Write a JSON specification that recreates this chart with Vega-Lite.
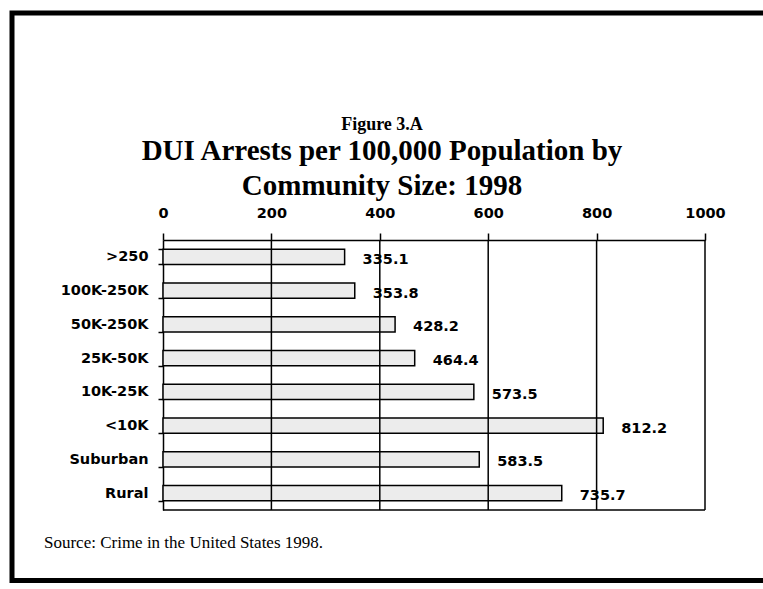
{
  "$schema": "https://vega.github.io/schema/vega-lite/v6.json",
  "autosize": "none",
  "width": 780,
  "height": 567.5,
  "padding": {"left": 12, "top": 13, "right": -29, "bottom": 8.5},
  "background": "white",
  "config": {
    "view": {"stroke": "black", "strokeWidth": 5},
    "axis": {"grid": false}
  },
  "title": {
    "text": "Figure 3.A",
    "subtitle": ["DUI Arrests per 100,000 Population by", "Community Size:  1998"],
    "font": "Liberation Serif",
    "fontSize": 18,
    "fontWeight": "bold",
    "color": "black",
    "subtitleFont": "Liberation Serif",
    "subtitleFontSize": 29,
    "subtitleFontWeight": "bold",
    "subtitleColor": "black",
    "subtitleLineHeight": 34.5,
    "subtitlePadding": 3,
    "anchor": "middle",
    "frame": "group",
    "offset": -195.5,
    "dx": -20
  },
  "datasets": {
    "rates": [
      {"community": ">250", "rate": 335.1},
      {"community": "100K-250K", "rate": 353.8},
      {"community": "50K-250K", "rate": 428.2},
      {"community": "25K-50K", "rate": 464.4},
      {"community": "10K-25K", "rate": 573.5},
      {"community": "<10K", "rate": 812.2},
      {"community": "Suburban", "rate": 583.5},
      {"community": "Rural", "rate": 735.7}
    ],
    "grid": [{"v": 200}, {"v": 400}, {"v": 600}, {"v": 800}, {"v": 1000}],
    "note": [{"note": "Source: Crime in the United States 1998."}]
  },
  "layer": [
    {
      "data": {"name": "rates"},
      "layer": [
        {
          "mark": {"type": "bar", "fill": "#ececec", "stroke": "black", "strokeWidth": 1.5},
          "encoding": {
            "y": {
              "field": "community", "type": "nominal", "sort": null, "title": null,
              "scale": {"range": [227, 497], "paddingInner": 0.555, "paddingOuter": 0.2775},
              "axis": {
                "orient": "left", "offset": -151, "tickBand": "extent", "tickSize": 5,
                "tickColor": "black", "tickWidth": 1.5, "domainColor": "black", "domainWidth": 1.5,
                "labelPadding": 10, "labelFont": "DejaVu Sans", "labelFontWeight": "bold",
                "labelFontSize": 14.5, "labelColor": "black", "title": null
              }
            },
            "x": {
              "field": "rate", "type": "quantitative", "title": null,
              "scale": {"domain": [0, 1000], "range": [151, 693], "nice": false, "zero": false},
              "axis": {
                "orient": "top", "offset": -227, "values": [0, 200, 400, 600, 800, 1000],
                "format": "d", "tickSize": 7, "tickColor": "black", "tickWidth": 1.5,
                "domainColor": "black", "domainWidth": 1.5, "labelPadding": 16,
                "labelBaseline": "alphabetic", "labelFont": "DejaVu Sans", "labelFontWeight": "bold",
                "labelFontSize": 14.5, "labelColor": "black", "labelFlush": false,
                "labelOverlap": false, "grid": false, "title": null
              }
            }
          }
        },
        {
          "mark": {"type": "text", "align": "left", "baseline": "middle", "dx": 18, "dy": 3,
                   "font": "DejaVu Sans", "fontWeight": "bold", "fontSize": 14.5, "color": "black"},
          "encoding": {
            "y": {"field": "community", "type": "nominal", "sort": null, "title": null},
            "x": {"field": "rate", "type": "quantitative", "title": null},
            "text": {"field": "rate", "type": "quantitative", "format": ".1f"}
          }
        }
      ]
    },
    {
      "layer": [
        {
          "data": {"name": "grid"},
          "mark": {"type": "rule", "color": "black", "strokeWidth": 1.5},
          "encoding": {
            "x": {"field": "v", "type": "quantitative", "title": null},
            "y": {"datum": 0, "type": "quantitative", "scale": {"domain": [0, 1], "range": [227, 497], "nice": false, "zero": false}, "axis": null},
            "y2": {"datum": 1}
          }
        },
        {
          "data": {"values": [{"from": 0, "to": 1000}]},
          "mark": {"type": "rule", "color": "black", "strokeWidth": 1.5},
          "encoding": {
            "x": {"field": "from", "type": "quantitative", "title": null},
            "x2": {"field": "to"},
            "y": {"datum": 1, "type": "quantitative"}
          }
        },
        {
          "data": {"name": "note"},
          "mark": {"type": "text", "align": "left", "baseline": "alphabetic",
                   "font": "Liberation Serif", "fontSize": 17, "color": "black"},
          "encoding": {
            "x": {"datum": -219.6, "type": "quantitative"},
            "y": {"datum": 1.1407, "type": "quantitative"},
            "text": {"field": "note", "type": "nominal"}
          }
        }
      ]
    }
  ],
  "resolve": {"scale": {"y": "independent"}, "axis": {"y": "independent"}}
}
